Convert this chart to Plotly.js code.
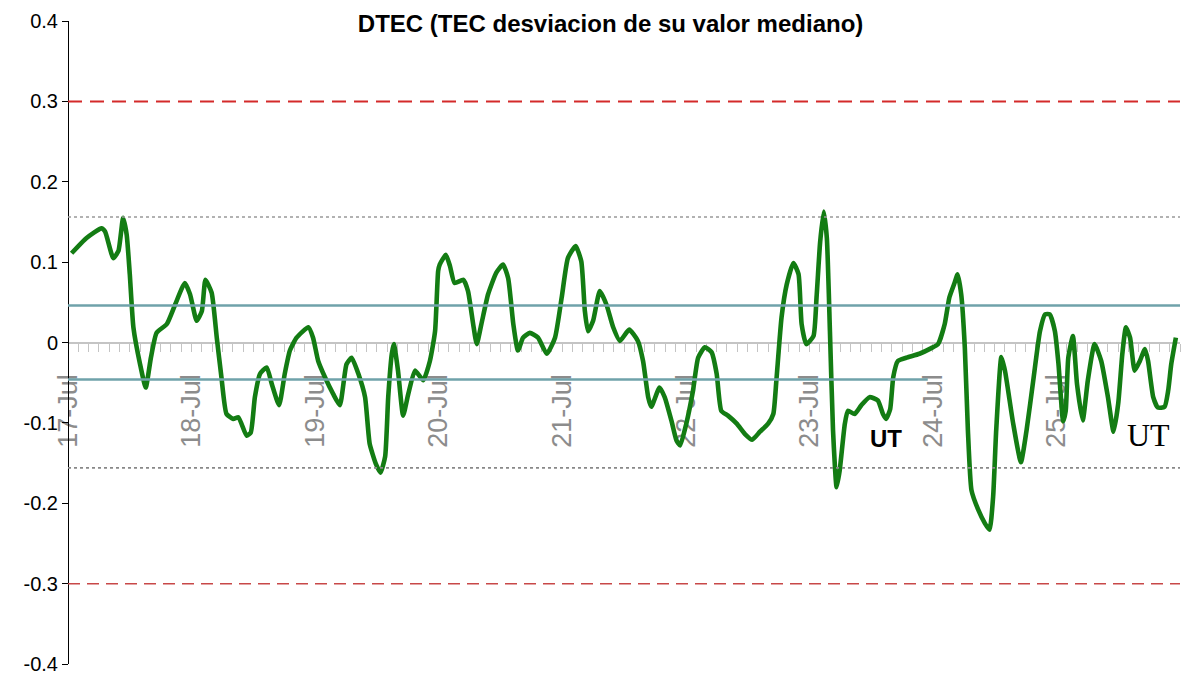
<!DOCTYPE html>
<html>
<head>
<meta charset="utf-8">
<script src="https://cdn.plot.ly/plotly-3.0.1.min.js"></script>
<style>
html,body{margin:0;padding:0;background:#fff;}
#chart{width:1181px;height:676px;}
</style>
</head>
<body>
<div id="chart"></div>
<script>
// Hours since 17-Jul 00:00 UT
const hours = [
0.7,3.6,6.5,7.2,8.8,9.8,10.7,11.4,12.0,12.7,14.0,15.1,16.1,17.2,19.2,20.8,22.7,23.7,25.0,26.0,26.7,27.9,28.9,29.8,30.8,32.1,33.1,34.7,
35.5,36.3,37.3,38.6,39.6,41.0,42.1,43.1,44.4,46.7,47.6,48.6,49.9,51.5,52.8,54.1,55.1,56.4,57.7,58.6,59.8,60.7,61.6,62.2,62.9,63.3,64.1,65.1,66.1,67.4,69.0,70.3,71.3,71.9,
72.2,73.4,74.2,75.1,76.8,77.7,78.7,79.4,80.3,81.6,83.2,84.5,85.5,86.5,87.4,88.4,89.7,91.3,93.0,94.6,95.9,97.1,98.6,99.7,100.4,101.0,102.0,103.3,104.6,105.9,107.2,109.0,
110.7,111.7,112.7,113.3,114.9,115.9,117.2,118.2,118.9,120.1,121.4,122.4,123.7,125.0,126.0,126.9,128.2,129.9,131.5,132.9,134.4,136.0,137.0,137.6,138.6,139.6,140.9,141.9,142.5,143.4,144.8,145.4,146.1,
146.8,147.4,148.0,148.6,149.3,149.9,150.9,151.5,152.8,154.1,155.7,157.3,158.3,158.9,159.7,160.3,161.2,162.8,165.4,167.7,169.0,170.3,171.2,172.2,172.8,173.5,174.2,174.8,175.5,176.8,178.1,179.0,179.7,180.3,181.3,
182.0,183.6,185.1,186.2,187.5,188.8,189.8,190.7,191.7,192.4,193.3,193.8,194.3,195.2,196.0,197.1,198.1,199.4,200.7,202.0,203.1,204.0,204.8,205.5,206.3,207.2,208.2,209.2,209.8,210.8,211.7,213.0,213.7,214.3,215.2
];
const dtec = [
0.111,0.130,0.142,0.138,0.105,0.114,0.155,0.134,0.085,0.019,-0.027,-0.056,-0.019,0.012,0.023,0.047,0.074,0.060,0.027,0.039,0.078,0.062,0.006,-0.043,-0.089,-0.095,-0.093,-0.116,
-0.112,-0.068,-0.039,-0.031,-0.052,-0.078,-0.039,-0.010,0.006,0.019,0.006,-0.023,-0.043,-0.064,-0.078,-0.027,-0.019,-0.039,-0.068,-0.126,-0.151,-0.162,-0.142,-0.068,-0.014,-0.002,-0.035,-0.091,-0.064,-0.035,-0.047,-0.023,0.014,0.089,
0.097,0.109,0.095,0.074,0.078,0.064,0.023,-0.002,0.023,0.060,0.087,0.097,0.080,0.023,-0.010,0.006,0.012,0.006,-0.014,0.006,0.056,0.105,0.120,0.101,0.039,0.014,0.027,0.064,0.047,0.019,0.002,0.016,
0.002,-0.023,-0.068,-0.080,-0.056,-0.068,-0.097,-0.122,-0.128,-0.101,-0.060,-0.019,-0.006,-0.012,-0.039,-0.085,-0.091,-0.101,-0.114,-0.121,-0.111,-0.101,-0.089,-0.047,0.031,0.072,0.099,0.085,0.023,-0.002,0.008,0.056,0.125,
0.163,0.130,0.014,-0.109,-0.180,-0.159,-0.101,-0.085,-0.089,-0.078,-0.068,-0.072,-0.089,-0.095,-0.083,-0.043,-0.023,-0.019,-0.014,-0.007,-0.002,0.023,0.056,0.074,0.085,0.060,-0.006,-0.109,-0.184,-0.208,-0.225,-0.233,-0.192,-0.109,-0.018,
-0.035,-0.101,-0.149,-0.109,-0.047,0.014,0.035,0.035,0.014,-0.027,-0.098,-0.085,-0.019,0.008,-0.052,-0.097,-0.047,-0.002,-0.023,-0.068,-0.111,-0.076,-0.014,0.019,0.006,-0.035,-0.023,-0.008,-0.023,-0.068,-0.081,-0.080,-0.060,-0.027,0.006
];
const dayTickHours = [0,24,48,72,96,120,144,168,192];
const dayTickLabels = ["17-Jul","18-Jul","19-Jul","20-Jul","21-Jul","22-Jul","23-Jul","24-Jul","25-Jul"];
const yTickVals = [-0.4,-0.3,-0.2,-0.1,0,0.1,0.2,0.3,0.4];
const yTickLabels = ["-0.4","-0.3","-0.2","-0.1","0","0.1","0.2","0.3","0.4"];
const redLimit = 0.3;
const greyLimit = 0.156;
const tealLimit = 0.046;
const tealLowerEndHour = 167;

const trace = {
  x: hours, y: dtec, type: 'scatter', mode: 'lines',
  line: {color: '#137c13', width: 4.6, shape: 'spline', smoothing: 0.5},
  hoverinfo: 'skip', showlegend: false
};

const shapes = [
  {type:'line', xref:'paper', yref:'y', x0:0, x1:1, y0:redLimit, y1:redLimit, line:{color:'#d42a2a', width:2, dash:'14px,8px'}, layer:'above'},
  {type:'line', xref:'paper', yref:'y', x0:0, x1:1, y0:-redLimit, y1:-redLimit, line:{color:'#c84848', width:1.5, dash:'12px,7px'}, layer:'above'},
  {type:'line', xref:'paper', yref:'y', x0:0, x1:1, y0:greyLimit, y1:greyLimit, line:{color:'#999999', width:1.5, dash:'dot'}, layer:'above'},
  {type:'line', xref:'paper', yref:'y', x0:0, x1:1, y0:-greyLimit, y1:-greyLimit, line:{color:'#888888', width:1.8, dash:'dot'}, layer:'above'},
  {type:'line', xref:'paper', yref:'y', x0:0, x1:1, y0:tealLimit, y1:tealLimit, line:{color:'#6fa2aa', width:2.5}, layer:'above'},
  {type:'line', xref:'x', yref:'y', x0:0, x1:tealLowerEndHour, y0:-tealLimit, y1:-tealLimit, line:{color:'#6fa2aa', width:2.5}, layer:'above'}
];

const layout = {
  width: 1181, height: 676,
  margin: {l: 68, r: 1, t: 21, b: 12, pad: 0},
  paper_bgcolor: '#ffffff', plot_bgcolor: '#ffffff',
  font: {family: 'Arial, "Liberation Sans", sans-serif', color: '#000'},
  title: {
    text: '<b>DTEC (TEC desviacion de su valor mediano)</b>',
    font: {size: 24, color: '#000', family: 'Arial, "Liberation Sans", sans-serif'},
    x: 0.517, xref: 'container', xanchor: 'center',
    y: 0.965, yref: 'container', yanchor: 'middle'
  },
  xaxis: {
    type: 'linear', range: [0, 216], fixedrange: true,
    anchor: 'free', position: 0.5,
    showgrid: false, zeroline: false,
    showline: true, linecolor: '#c4c4c4', linewidth: 2,
    tickmode: 'array', tickvals: dayTickHours, ticktext: dayTickLabels,
    ticks: 'outside', ticklen: 8, tickcolor: '#c4c4c4', tickwidth: 1,
    minor: {dtick: 2, tick0: 0, ticks: 'outside', ticklen: 8, tickcolor: '#c4c4c4', tickwidth: 1, showgrid: false},
    tickangle: -90, ticklabelstandoff: 12,
    tickfont: {size: 27, color: '#8c8c8c'},
    layer: 'below traces'
  },
  yaxis: {
    range: [-0.4, 0.4], fixedrange: true,
    anchor: 'free', position: 0,
    showgrid: false, zeroline: false,
    showline: true, linecolor: '#000', linewidth: 1,
    tickmode: 'array', tickvals: yTickVals, ticktext: yTickLabels,
    ticks: 'outside', ticklen: 6, tickcolor: '#000',
    ticklabeloverflow: 'allow',
    tickfont: {size: 20, color: '#000'}
  },
  shapes: shapes,
  annotations: [
    {text: '<b>UT</b>', x: 158.8, y: -0.119, xref: 'x', yref: 'y', showarrow: false,
     font: {size: 24, color: '#000', family: 'Arial, "Liberation Sans", sans-serif'}, xanchor: 'center', yanchor: 'middle'},
    {text: 'UT', x: 209.9, y: -0.115, xref: 'x', yref: 'y', showarrow: false,
     font: {size: 32, color: '#000', family: '"Times New Roman", "Liberation Serif", serif'}, xanchor: 'center', yanchor: 'middle'}
  ]
};

Plotly.newPlot('chart', [trace], layout, {staticPlot: true, displayModeBar: false});
</script>
</body>
</html>
